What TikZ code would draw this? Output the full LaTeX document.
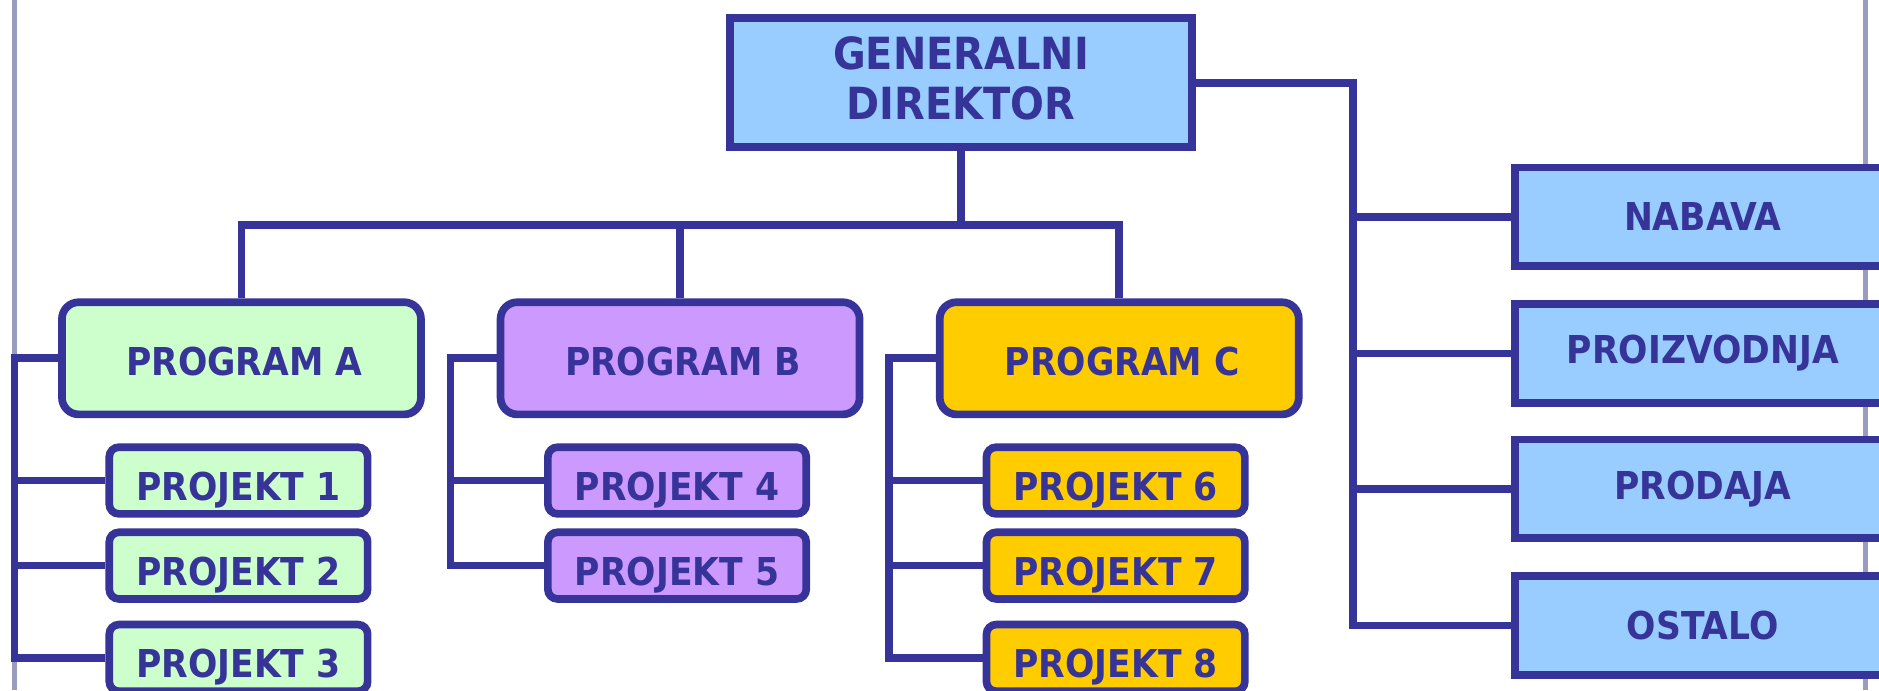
\documentclass[tikz,border=0pt]{standalone}
\usepackage{fontspec}
\setmainfont{DejaVu Sans}[FakeStretch=0.9]
\definecolor{orgline}{HTML}{363399}
\definecolor{edgegray}{HTML}{9A9CC0}
\definecolor{dirblue}{HTML}{99CCFF}
\definecolor{pgreen}{HTML}{CCFFCC}
\definecolor{pviolet}{HTML}{CC99FF}
\definecolor{pgold}{HTML}{FFCC00}
\begin{document}
\begin{tikzpicture}[x=0.25mm,y=0.25mm,line width=1.6mm,
	box/.style={draw=orgline,text=orgline,inner sep=0pt,
		font=\bfseries\fontsize{22.8}{26}\selectfont},
	director/.style={box,fill=dirblue,minimum width=96.4mm,minimum height=26.9mm,
		align=center,text depth=2mm,font=\bfseries\fontsize{26.3}{29.9}\selectfont},
	program/.style={box,rounded corners=3.5mm,minimum width=74.9mm,minimum height=23.4mm,
		text height=7.3mm,text depth=0pt},
	projekt/.style={box,rounded corners=2mm,minimum width=53.9mm,minimum height=13.9mm,
		text height=8.3mm,text depth=0pt},
	sector/.style={box,fill=dirblue,minimum width=78.4mm,minimum height=20.6mm},
	link/.style={draw=orgline,line width=1.6mm}]
	\useasboundingbox (0,0) rectangle (1568,-576);
	\clip (0,0) rectangle (1568,-576);
	\draw[edgegray,line width=1mm] (12,0)--(12,-576) (1557,0)--(1557,-576);
	% top
	\node[director] (dir) at (802,-69) {GENERALNI\\DIREKTOR};
	% programs
	\node[program,fill=pgreen] (pa) at (201.5,-299) {\hspace*{1.2mm}PROGRAM A};
	\node[program,fill=pviolet] (pb) at (567.5,-299) {\hspace*{1.2mm}PROGRAM B};
	\node[program,fill=pgold] (pc) at (934,-299) {\hspace*{1.2mm}PROGRAM C};
	\node[projekt,fill=pgreen] (p1) at (199,-401) {PROJEKT 1};
	\node[projekt,fill=pgreen] (p2) at (199,-472) {PROJEKT 2};
	\node[projekt,fill=pgreen] (p3) at (199,-549) {PROJEKT 3};
	\node[projekt,fill=pviolet] (p4) at (565,-401) {PROJEKT 4};
	\node[projekt,fill=pviolet] (p5) at (565,-472) {PROJEKT 5};
	\node[projekt,fill=pgold] (p6) at (931,-401) {PROJEKT 6};
	\node[projekt,fill=pgold] (p7) at (931,-472) {PROJEKT 7};
	\node[projekt,fill=pgold] (p8) at (931,-549) {PROJEKT 8};
	% sectors
	\node[sector] (nabava) at (1421,-181) {NABAVA};
	\node[sector] (proizvodnja) at (1421,-295) {PROIZVODNJA};
	\node[sector] (prodaja) at (1421,-408) {PRODAJA};
	\node[sector] (ostalo) at (1421,-522) {OSTALO};
	% connectors
	\coordinate (bus) at (802,-188);
	\coordinate (ra) at (12,0);
	\coordinate (rb) at (376,0);
	\coordinate (rc) at (742,0);
	\coordinate (rs) at (1129,0);
	\draw[link] (dir.south) -- (bus);
	\draw[link] (pa.north) |- (bus) -| (pc.north);
	\draw[link] (pb.north) -- (pb.north |- bus);
	\draw[link] (pa.west) -- (pa.west -| ra) |- (p3.west);
	\draw[link] (pb.west) -- (pb.west -| rb) |- (p5.west);
	\draw[link] (pc.west) -- (pc.west -| rc) |- (p8.west);
	\foreach \p/\r in {p1/ra,p2/ra,p4/rb,p6/rc,p7/rc}
		\draw[link] (\p.west) -- (\p.west -| \r);
	\draw[link] (dir.east) -- (dir.east -| rs) |- (ostalo.west);
	\foreach \s in {nabava,proizvodnja,prodaja}
		\draw[link] (\s.west) -- (\s.west -| rs);
\end{tikzpicture}
\end{document}
